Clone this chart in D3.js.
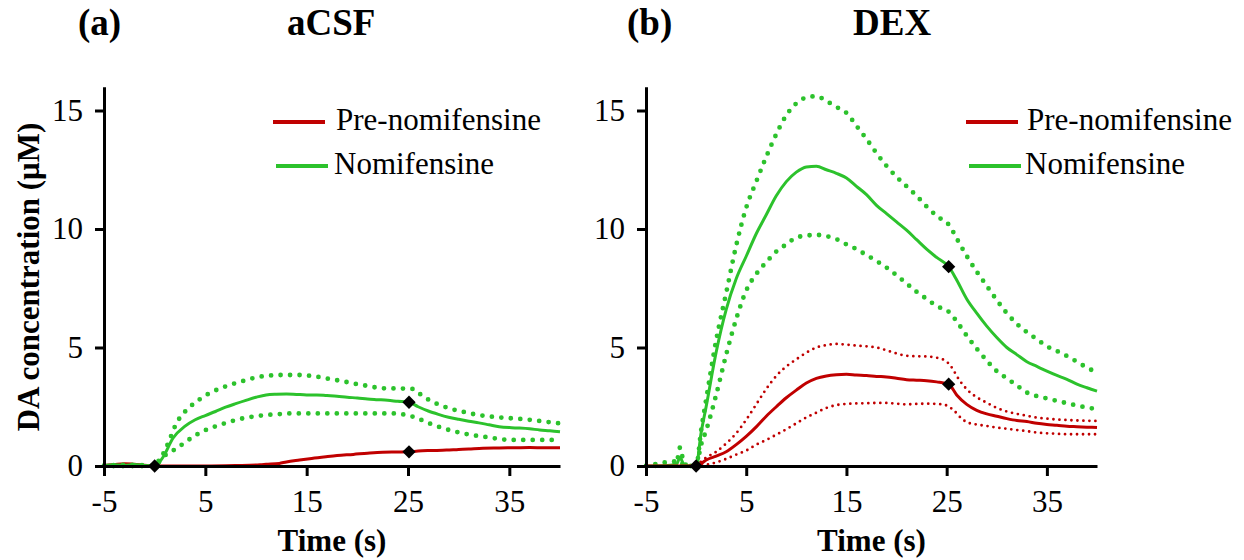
<!DOCTYPE html>
<html>
<head>
<meta charset="utf-8">
<script src="https://cdn.jsdelivr.net/npm/d3@7"></script>
<style>
  html, body { margin: 0; padding: 0; background: #fff; }
  svg { display: block; font-family: "Liberation Serif", "Times New Roman", serif; }
</style>
</head>
<body>
<svg id="chart" width="1244" height="560"></svg>
<script>
// ---- data: DA concentration (µM) versus time (s) ----
const xTicks = [-5, 5, 15, 25, 35];
const yTicks = [0, 5, 10, 15];
const seriesNames = ["Pre-nomifensine", "Nomifensine"];
const panelTitles = ["aCSF", "DEX"];
const panelTags = ["(a)", "(b)"];

// panel (a) aCSF
const aNomMean = [[-5,0.02],[-4,0.05],[-3,0.03],[-2,0.06],[-1,0.02],[0,0],[0.85,0.39],[1.8,1.17],[3,1.68],[4,1.95],[5,2.13],[6,2.3],[7,2.48],[8,2.63],[9,2.77],[10,2.9],[11,3.0],[12,3.03],[13,3.04],[14,3.02],[15,3.0],[16,3.0],[17,2.97],[18,2.94],[19,2.9],[20,2.87],[21,2.83],[22,2.8],[23,2.77],[24,2.73],[25.1,2.69],[26,2.5],[27,2.32],[28,2.18],[29,2.06],[30,1.97],[31,1.89],[32,1.82],[33,1.74],[34,1.66],[35,1.62],[36,1.6],[37,1.57],[38,1.52],[39,1.49],[40,1.45]];
const aNomUpper = [[-5,0.02],[-3,0.05],[-1,0.03],[0,0],[1.17,0.81],[2.15,1.8],[3.5,2.5],[4.5,2.83],[5.4,3.07],[6.5,3.28],[7.7,3.46],[9,3.62],[10,3.74],[11,3.8],[12.3,3.84],[14.3,3.84],[15.5,3.8],[16.9,3.7],[18.5,3.58],[19.9,3.46],[21,3.38],[22.5,3.28],[24,3.27],[25.5,3.25],[26.3,3.0],[27.1,2.78],[28,2.6],[29.1,2.43],[30.5,2.28],[32,2.15],[33.5,2.07],[35.3,2.01],[37,1.95],[38.5,1.87],[40,1.8]];
const aNomLower = [[-5,0],[0,0],[0.5,0.28],[1.2,0.5],[2.15,0.74],[3,1.0],[4.1,1.31],[5.2,1.55],[6.4,1.73],[7.5,1.88],[8.7,2.01],[10,2.1],[11,2.15],[12,2.18],[13.65,2.22],[15,2.22],[17,2.22],[19,2.22],[20.2,2.22],[22,2.22],[23.5,2.22],[24.5,2.18],[25.5,2.08],[27.1,1.8],[28.4,1.6],[29.7,1.45],[31,1.33],[32.4,1.24],[33.7,1.16],[35,1.1],[37,1.1],[40,1.1]];
const aPreMean = [[-5,0.02],[-4,0.06],[-3,0.1],[-2,0.07],[-1,0.03],[0,0],[2,0],[5,0],[8,0.02],[10.4,0.05],[11,0.07],[12.3,0.11],[13,0.17],[14.3,0.25],[15.5,0.32],[16.9,0.39],[18,0.44],[19.6,0.49],[21,0.54],[22.5,0.58],[24,0.59],[25.1,0.6],[26,0.63],[27,0.65],[28.8,0.67],[30,0.7],[31,0.72],[32.4,0.75],[34,0.76],[35.6,0.77],[37,0.78],[38.5,0.77],[40,0.77]];
const aMarkers = [[0,0],[25.1,2.69],[25.1,0.6]];

// panel (b) DEX
const bNomMean = [[-5,0],[-3,0.02],[-2,0.05],[-1.6,0.35],[-1.2,0.05],[-0.5,0],[0,0],[0.5,1.4],[1,2.5],[2,4.8],[3,6.6],[4,7.9],[5,8.85],[6,9.8],[7,10.6],[8,11.4],[9,12.0],[10,12.4],[11,12.62],[12,12.65],[13,12.5],[14,12.35],[15,12.15],[16,11.8],[17,11.45],[18,11.0],[19,10.65],[20,10.3],[21,9.95],[22,9.55],[23,9.15],[24,8.8],[25.2,8.41],[26,7.85],[27,7.05],[28,6.45],[29,5.9],[30,5.42],[31,5.0],[32,4.7],[33,4.4],[34,4.2],[35,4.0],[36,3.82],[37,3.66],[38,3.45],[39,3.3],[40,3.16]];
const bNomUpper = [[-5,0],[-2,0.05],[-1.6,0.78],[-1.2,0.1],[-0.5,0],[0,0],[0.5,1.5],[1,2.8],[2,5.3],[3,7.3],[4,9.3],[5,10.9],[6,12.0],[7,13.05],[8,14.0],[9,14.8],[10,15.3],[11,15.55],[12,15.6],[13,15.4],[14,15.15],[15,14.9],[16,14.35],[17,13.8],[18,13.2],[19,12.66],[20,12.2],[21,11.8],[22,11.4],[23,10.95],[24,10.55],[25.3,10.13],[26,9.6],[27,8.86],[28,8.2],[29,7.6],[30,7.0],[31,6.45],[32,6.0],[33,5.65],[34,5.35],[35,5.05],[36,4.85],[37,4.64],[38,4.4],[39,4.15],[40,3.95]];
const bNomLower = [[-5,0],[-1.6,0.2],[-1.2,0],[0,0],[0.5,0.9],[1,1.5],[2,3.0],[3,4.7],[4,6.2],[5,7.4],[6,8.1],[7,8.6],[8,9.05],[9,9.35],[10,9.64],[11,9.72],[12,9.75],[13,9.7],[14,9.57],[15,9.35],[16,9.15],[17,8.9],[18,8.65],[19,8.37],[20,8.05],[21,7.7],[22,7.35],[23,7.05],[24,6.75],[25.3,6.47],[26,6.1],[27,5.5],[28,4.95],[29,4.45],[30,4.0],[31,3.7],[32,3.4],[33,3.1],[34,2.95],[35,2.85],[36,2.75],[37,2.65],[38,2.55],[39,2.47],[40,2.4]];
const bPreMean = [[-5,0],[0,0],[0.5,0.1],[1,0.25],[2,0.42],[3,0.6],[4,0.9],[5,1.25],[6,1.65],[7,2.1],[8,2.5],[9,2.88],[10,3.2],[11,3.5],[12,3.7],[13,3.8],[14,3.85],[15,3.87],[16,3.84],[17,3.82],[18,3.78],[19,3.76],[20,3.7],[21,3.64],[22,3.62],[23,3.6],[24,3.55],[25.2,3.45],[26,3.0],[27,2.6],[28,2.35],[29,2.2],[30,2.1],[31,2.0],[32,1.92],[33,1.88],[34,1.8],[35,1.75],[36,1.72],[37,1.68],[38,1.66],[39,1.64],[40,1.62]];
const bPreUpper = [[0,0],[1,0.35],[2,0.6],[3,0.95],[4,1.38],[5,1.95],[6,2.6],[7,3.25],[8,3.8],[9,4.2],[10,4.5],[11,4.78],[12,5.0],[13,5.1],[14,5.15],[15,5.12],[16,5.08],[17,5.05],[18,5.0],[19,4.88],[20,4.75],[21,4.65],[22,4.63],[23,4.62],[24.6,4.5],[25.6,4.1],[26,3.8],[27,3.24],[28,2.9],[29,2.67],[30,2.45],[31,2.3],[32,2.2],[33,2.12],[34,2.04],[35,2.0],[36,1.96],[37,1.94],[38,1.92],[40,1.9]];
const bPreLower = [[0,0],[1,0.05],[2,0.15],[3,0.3],[4,0.48],[5,0.65],[6,0.9],[7,1.1],[8,1.32],[9,1.55],[10,1.8],[11,2.05],[12,2.25],[13,2.45],[14,2.57],[15,2.62],[16,2.64],[17,2.65],[18,2.66],[19,2.66],[20,2.63],[21,2.6],[22,2.62],[23,2.63],[24.6,2.6],[25.6,2.39],[26.5,2.0],[27,1.85],[28,1.75],[29,1.69],[30,1.62],[31,1.57],[32,1.52],[33,1.47],[34,1.41],[35,1.38],[36,1.36],[37,1.34],[40,1.34]];
const bMarkers = [[0,0],[25.2,8.41],[25.2,3.45]];

// ---- drawing ----
const RED = "#c00000";
const GREEN = "#2cc22c";
const svg = d3.select("#chart");

const panels = [
  { left: 104, right: 560, title: panelTitles[0], tag: panelTags[0], tagX: 78, titleX: 287,
    legendX: 273, legendTextX: 336,
    lines: [
      { data: aPreMean, color: RED, kind: "solid" },
      { data: aNomUpper, color: GREEN, kind: "dotBig" },
      { data: aNomLower, color: GREEN, kind: "dotBig" },
      { data: aNomMean, color: GREEN, kind: "solid" }
    ],
    markers: aMarkers, yLabel: true },
  { left: 646, right: 1097, title: panelTitles[1], tag: panelTags[1], tagX: 627, titleX: 853,
    legendX: 966, legendTextX: 1027,
    lines: [
      { data: bNomUpper, color: GREEN, kind: "dotBig" },
      { data: bNomLower, color: GREEN, kind: "dotBig" },
      { data: bPreUpper, color: RED, kind: "dotSmall" },
      { data: bPreLower, color: RED, kind: "dotSmall" },
      { data: bNomMean, color: GREEN, kind: "solid" },
      { data: bPreMean, color: RED, kind: "solid" }
    ],
    markers: bMarkers, yLabel: false }
];

const yBase = 466;
const yTop = yBase - 16 * 23.7;
const plainNumber = d => String(d);   // "-5" with an ordinary hyphen

panels.forEach(p => {
  const x = d3.scaleLinear().domain([-5, 40]).range([p.left, p.right]);
  const y = d3.scaleLinear().domain([0, 16]).range([yBase, yTop]);
  const g = svg.append("g");

  const line = d3.line()
    .x(d => x(d[0]))
    .y(d => y(d[1]))
    .curve(d3.curveMonotoneX);

  p.lines.forEach(s => {
    const path = g.append("path")
      .datum(s.data)
      .attr("d", line)
      .attr("fill", "none")
      .attr("stroke", s.color);
    if (s.kind === "solid") {
      path.attr("stroke-width", 3).attr("stroke-linejoin", "round");
    } else if (s.kind === "dotBig") {
      path.attr("stroke-width", 4.8).attr("stroke-linecap", "round").attr("stroke-dasharray", "0 9.5");
    } else {
      path.attr("stroke-width", 2.8).attr("stroke-linecap", "round").attr("stroke-dasharray", "0 6");
    }
  });

  // axes
  const xAxis = g.append("g")
    .attr("transform", `translate(0,${yBase})`)
    .call(d3.axisBottom(x).tickValues(xTicks).tickFormat(plainNumber)
      .tickSize(10).tickSizeOuter(0).tickPadding(14));
  const yAxis = g.append("g")
    .attr("transform", `translate(${p.left},0)`)
    .call(d3.axisLeft(y).tickValues(yTicks).tickFormat(plainNumber)
      .tickSize(9).tickSizeOuter(0).tickPadding(12));
  [xAxis, yAxis].forEach(ax => {
    ax.select(".domain").attr("stroke", "#000").attr("stroke-width", 3);
    ax.selectAll(".tick line").attr("stroke", "#000").attr("stroke-width", 3);
    ax.selectAll(".tick text")
      .attr("fill", "#000")
      .style("font-family", "'Liberation Serif', serif")
      .style("font-size", "31px");
  });

  // event markers
  g.selectAll("path.marker")
    .data(p.markers)
    .join("path")
    .attr("class", "marker")
    .attr("d", d3.symbol(d3.symbolSquare, 88))
    .attr("transform", d => `translate(${x(d[0])},${y(d[1])}) rotate(45)`)
    .attr("fill", "#000");

  // titles
  g.append("text").attr("x", p.tagX).attr("y", 35)
    .attr("font-size", 37).attr("font-weight", "bold").text(p.tag);
  g.append("text").attr("x", p.titleX).attr("y", 35)
    .attr("font-size", 37).attr("font-weight", "bold").text(p.title);

  // x axis title
  g.append("text")
    .attr("x", (p.left + p.right) / 2).attr("y", 551)
    .attr("text-anchor", "middle")
    .attr("font-size", 31).attr("font-weight", "bold")
    .text("Time (s)");

  if (p.yLabel) {
    g.append("text")
      .attr("transform", "translate(39,277) rotate(-90)")
      .attr("text-anchor", "middle")
      .attr("font-size", 31).attr("font-weight", "bold")
      .text("DA concentration (\u03bcM)");
  }

  // legend
  const legend = g.append("g");
  [RED, GREEN].forEach((c, i) => {
    const ly = 122 + i * 44;
    const dx = i === 0 ? 0 : 3;
    legend.append("line")
      .attr("x1", p.legendX + dx).attr("x2", p.legendX + dx + 52)
      .attr("y1", ly).attr("y2", ly)
      .attr("stroke", c).attr("stroke-width", 4);
    legend.append("text")
      .attr("x", p.legendTextX - (i === 0 ? 0 : 2)).attr("y", ly + 8)
      .attr("font-size", 31)
      .text(seriesNames[i]);
  });
});
</script>
</body>
</html>
